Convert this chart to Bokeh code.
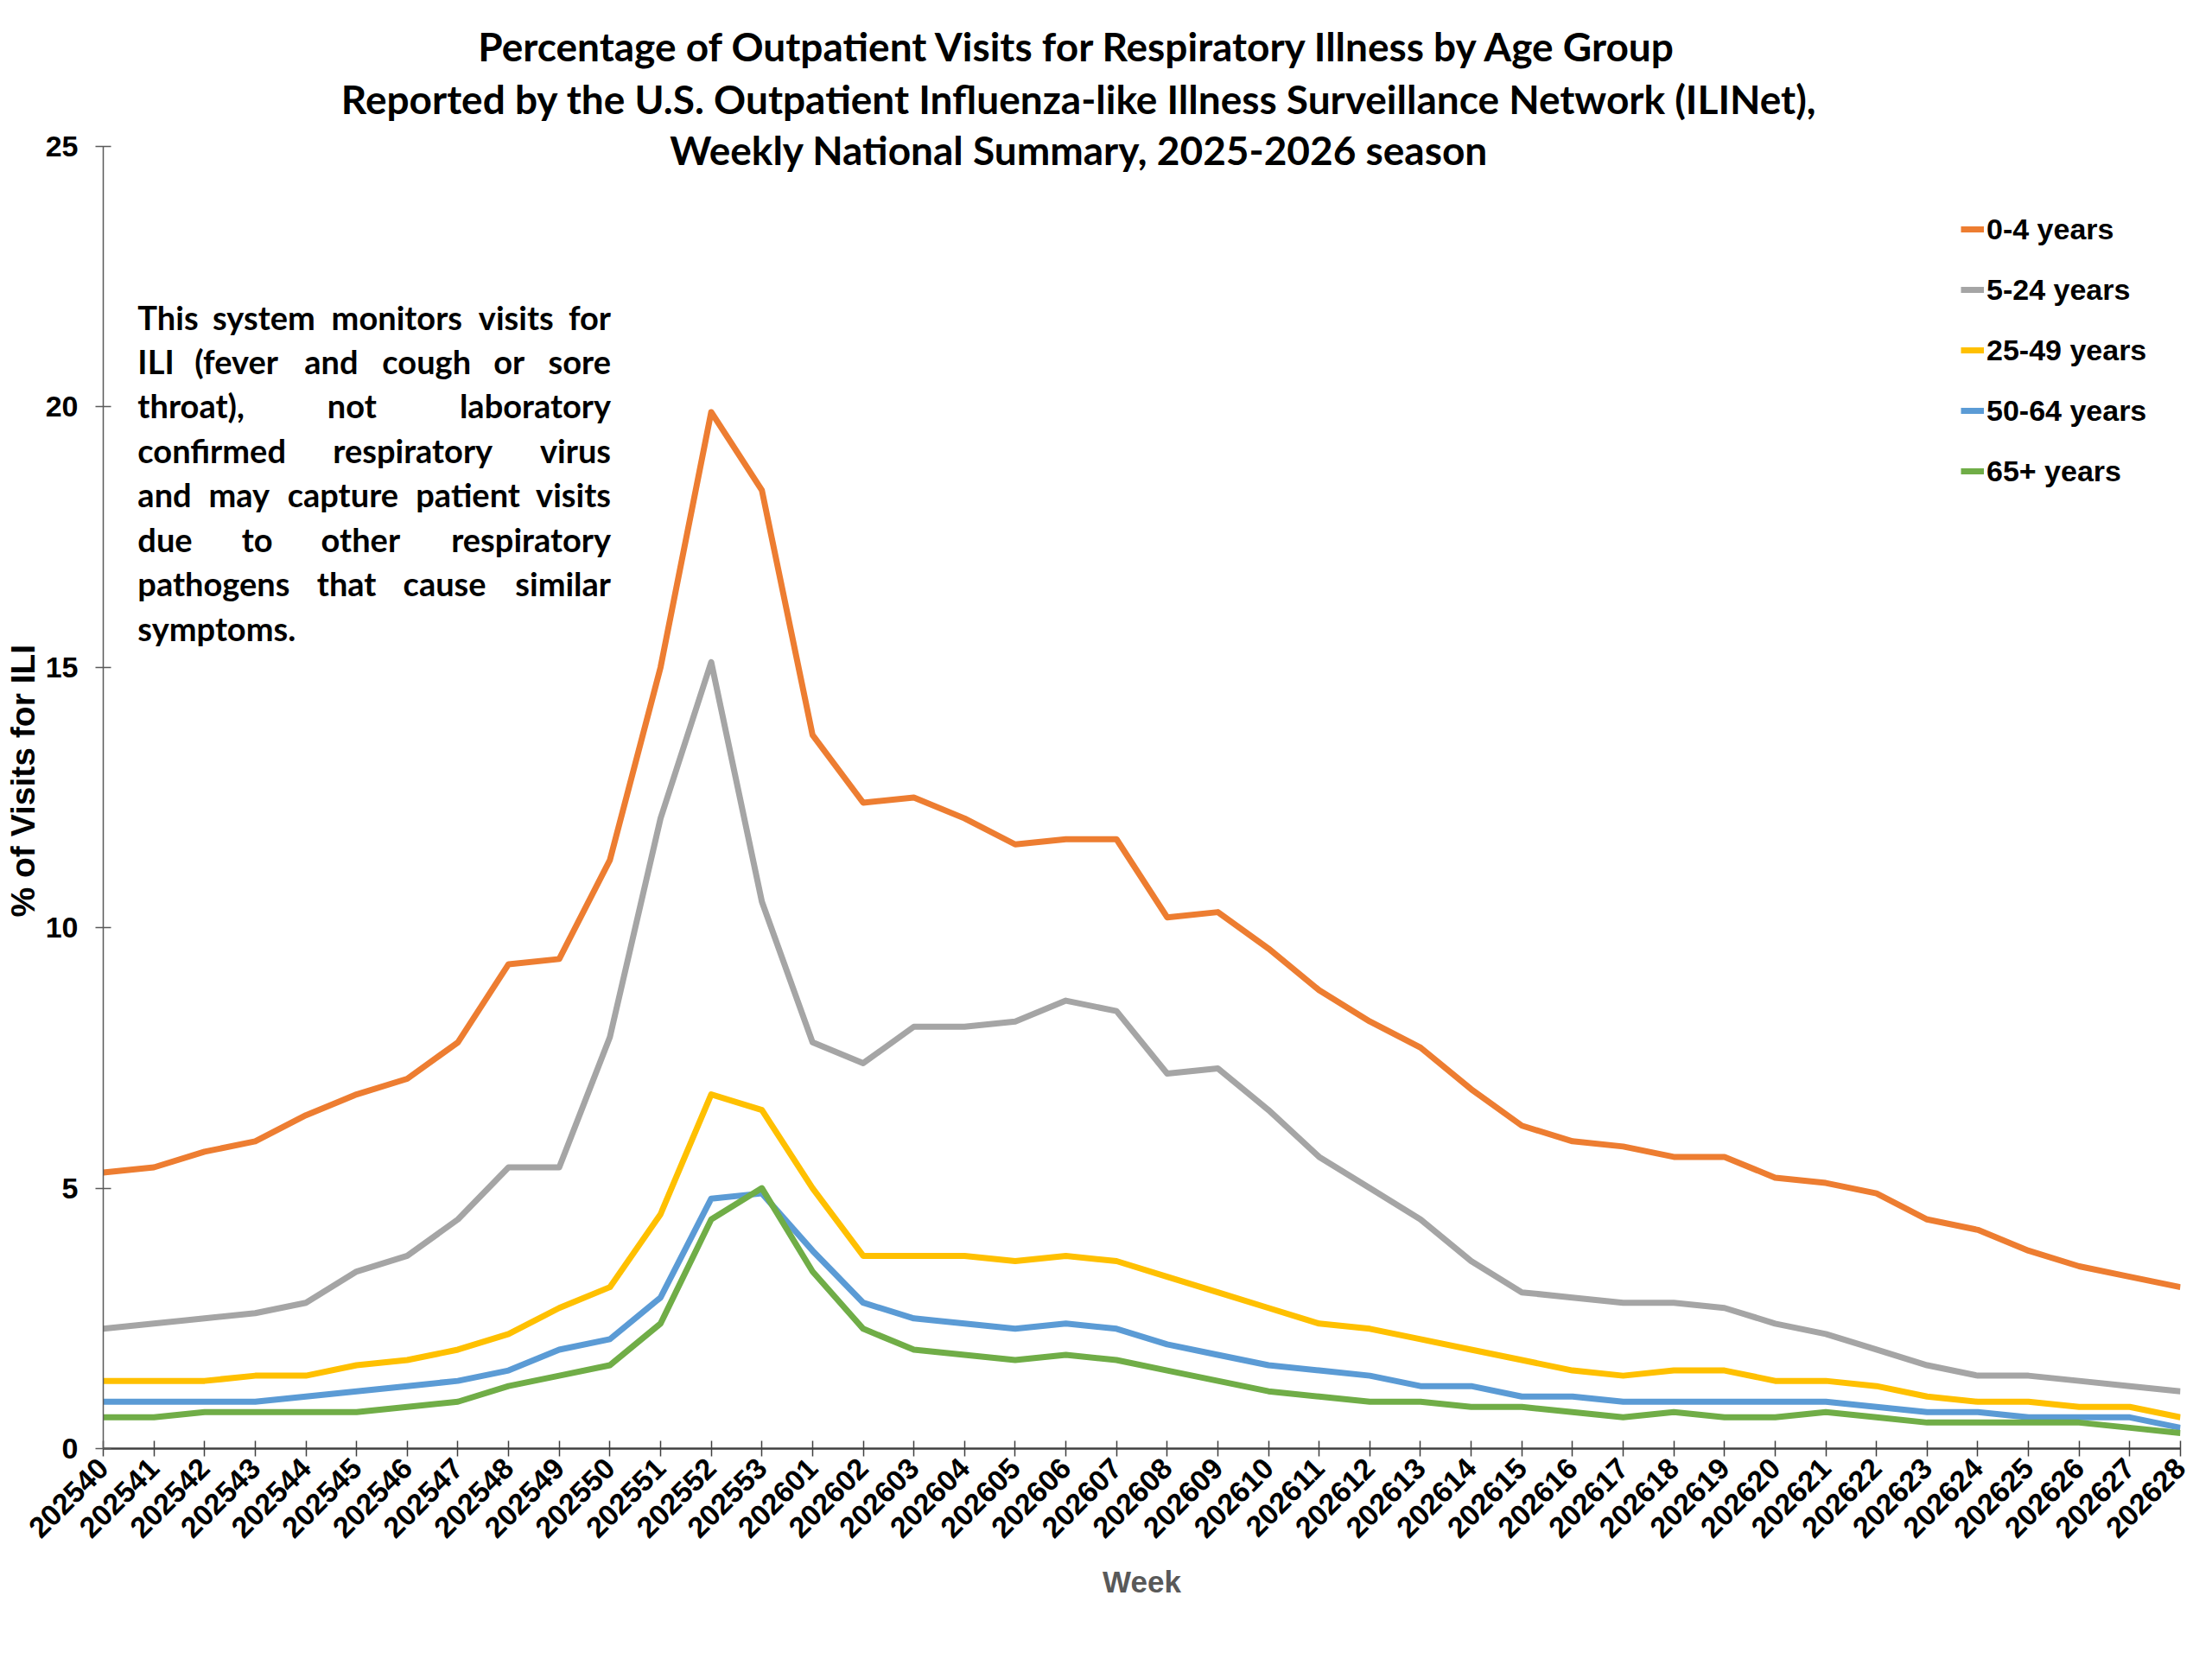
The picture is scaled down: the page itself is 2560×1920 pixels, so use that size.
import math
from bokeh.plotting import figure
from bokeh.models import (ColumnDataSource, FixedTicker, Label, Legend, LegendItem, Range1d, Title)
from bokeh.embed import file_html
from bokeh.resources import INLINE

# ---------------- data ----------------
weeks = ["202540", "202541", "202542", "202543", "202544", "202545", "202546", "202547",
         "202548", "202549", "202550", "202551", "202552", "202553", "202601", "202602",
         "202603", "202604", "202605", "202606", "202607", "202608", "202609", "202610",
         "202611", "202612", "202613", "202614", "202615", "202616", "202617", "202618",
         "202619", "202620", "202621", "202622", "202623", "202624", "202625", "202626",
         "202627", "202628"]

age_groups = ["0-4 years", "5-24 years", "25-49 years", "50-64 years", "65+ years"]
colors = ["#ED7D31", "#A5A5A5", "#FFC000", "#5B9BD5", "#70AD47"]

age_0_4 = [5.3, 5.4, 5.7, 5.9, 6.4, 6.8, 7.1, 7.8, 9.3, 9.4, 11.3, 15.0, 19.9, 18.4,
           13.7, 12.4, 12.5, 12.1, 11.6, 11.7, 11.7, 10.2, 10.3, 9.6, 8.8, 8.2, 7.7, 6.9,
           6.2, 5.9, 5.8, 5.6, 5.6, 5.2, 5.1, 4.9, 4.4, 4.2, 3.8, 3.5, 3.3, 3.1]
age_5_24 = [2.3, 2.4, 2.5, 2.6, 2.8, 3.4, 3.7, 4.4, 5.4, 5.4, 7.9, 12.1, 15.1, 10.5,
            7.8, 7.4, 8.1, 8.1, 8.2, 8.6, 8.4, 7.2, 7.3, 6.5, 5.6, 5.0, 4.4, 3.6,
            3.0, 2.9, 2.8, 2.8, 2.7, 2.4, 2.2, 1.9, 1.6, 1.4, 1.4, 1.3, 1.2, 1.1]
age_25_49 = [1.3, 1.3, 1.3, 1.4, 1.4, 1.6, 1.7, 1.9, 2.2, 2.7, 3.1, 4.5, 6.8, 6.5,
             5.0, 3.7, 3.7, 3.7, 3.6, 3.7, 3.6, 3.3, 3.0, 2.7, 2.4, 2.3, 2.1, 1.9,
             1.7, 1.5, 1.4, 1.5, 1.5, 1.3, 1.3, 1.2, 1.0, 0.9, 0.9, 0.8, 0.8, 0.6]
age_50_64 = [0.9, 0.9, 0.9, 0.9, 1.0, 1.1, 1.2, 1.3, 1.5, 1.9, 2.1, 2.9, 4.8, 4.9,
             3.8, 2.8, 2.5, 2.4, 2.3, 2.4, 2.3, 2.0, 1.8, 1.6, 1.5, 1.4, 1.2, 1.2,
             1.0, 1.0, 0.9, 0.9, 0.9, 0.9, 0.9, 0.8, 0.7, 0.7, 0.6, 0.6, 0.6, 0.4]
age_65_plus = [0.6, 0.6, 0.7, 0.7, 0.7, 0.7, 0.8, 0.9, 1.2, 1.4, 1.6, 2.4, 4.4, 5.0,
               3.4, 2.3, 1.9, 1.8, 1.7, 1.8, 1.7, 1.5, 1.3, 1.1, 1.0, 0.9, 0.9, 0.8,
               0.8, 0.7, 0.6, 0.7, 0.6, 0.6, 0.7, 0.6, 0.5, 0.5, 0.5, 0.5, 0.4, 0.3]

y_ticks = [0, 5, 10, 15, 20, 25]

title_lines = [
    "Percentage of Outpatient Visits for Respiratory Illness by Age Group",
    "Reported by the U.S. Outpatient Influenza-like Illness Surveillance Network (ILINet),",
    "Weekly National Summary, 2025-2026 season",
]
note_lines = [
    "This system monitors visits for",
    "ILI (fever and cough or sore",
    "throat), not laboratory",
    "confirmed respiratory virus",
    "and may capture patient visits",
    "due to other respiratory",
    "pathogens that cause similar",
    "symptoms.",
]
y_label = "% of Visits for ILI"
x_label = "Week"

# ---------------- figure ----------------
n = len(weeks)
Y_MAX = y_ticks[-1]
FRAME_W = 2404
PX_PER_Y = 1507 / Y_MAX          # axis 0..25 spans 1507 px
FRAME_H = 1676                   # frame extends up to the canvas top (room for title)
Y_TOP = FRAME_H / PX_PER_Y
p = figure(output_backend="svg", toolbar_location=None,
           frame_width=FRAME_W, frame_height=FRAME_H,
           min_border_left=118, min_border_top=0, min_border_right=22, min_border_bottom=228,
           x_range=Range1d(0, n - 1), y_range=Range1d(0, Y_TOP))
p.outline_line_color = None
p.grid.visible = False
p.background_fill_color = "white"
p.border_fill_color = "white"

AX = "Liberation Sans"
# x axis
p.xaxis.ticker = FixedTicker(ticks=list(range(n)))
p.xaxis.major_label_overrides = {i: w for i, w in enumerate(weeks)}
p.xaxis.major_label_orientation = math.pi / 4
p.xaxis.major_label_text_font = AX
p.xaxis.major_label_text_font_style = "bold"
p.xaxis.major_label_text_font_size = "34px"
p.xaxis.major_label_text_color = "black"
p.xaxis.major_label_standoff = 8
p.xaxis.axis_label = x_label
p.xaxis.axis_label_text_font = AX
p.xaxis.axis_label_text_font_style = "bold"
p.xaxis.axis_label_text_font_size = "35px"
p.xaxis.axis_label_text_color = "#595959"
p.xaxis.axis_label_standoff = 18
p.xaxis.minor_tick_line_color = None
p.xaxis.axis_line_color = "#404040"
p.xaxis.axis_line_width = 2.5
p.xaxis.major_tick_line_color = "#404040"
p.xaxis.major_tick_line_width = 1.5
p.xaxis.major_tick_in = 9
p.xaxis.major_tick_out = 9

# y axis
p.yaxis.ticker = FixedTicker(ticks=y_ticks)
p.yaxis.bounds = (0, Y_MAX)
p.yaxis.major_label_text_font = AX
p.yaxis.major_label_text_font_style = "bold"
p.yaxis.major_label_text_font_size = "34px"
p.yaxis.major_label_text_color = "black"
p.yaxis.major_label_standoff = 20
p.yaxis.minor_tick_line_color = None
p.yaxis.axis_line_color = "#595959"
p.yaxis.axis_line_width = 1.5
p.yaxis.major_tick_line_color = "#595959"
p.yaxis.major_tick_line_width = 1.5
p.yaxis.major_tick_in = 9
p.yaxis.major_tick_out = 9

# y axis title, centred on the 0..25 part of the axis (frame also holds the title area)
YL_PX = 39
p.add_layout(Title(text=y_label, align="left", offset=615, standoff=4,
                   text_font=AX, text_font_style="bold", text_font_size=f"{YL_PX}px",
                   text_color="black"), "left")

# ---------------- lines ----------------
src = ColumnDataSource(dict(x=list(range(n)), week=weeks, a=age_0_4, b=age_5_24,
                            c=age_25_49, d=age_50_64, e=age_65_plus))
cols = ["a", "b", "c", "d", "e"]
renderers = []
for col, colr in zip(cols, colors):
    r = p.line("x", col, source=src, line_color=colr, line_width=7, line_join="round")
    renderers.append(r)

legend = Legend(items=[LegendItem(label=lab, renderers=[r]) for lab, r in zip(age_groups, renderers)],
                location=(2150, 1111), orientation="vertical",
                glyph_width=27, glyph_height=40, label_height=40, spacing=30,
                label_standoff=3, padding=0, margin=0,
                label_text_font=AX, label_text_font_style="bold", label_text_font_size="34px",
                label_text_color="black", border_line_alpha=0, background_fill_alpha=0)
p.add_layout(legend)

# ---------------- title ----------------
TF = "Lato"
title_y = [26.92, 25.91, 24.93]
title_x = 19.26
for txt, ty in zip(title_lines, title_y):
    p.add_layout(Label(x=title_x, y=ty, text=txt, text_align="center", text_baseline="middle",
                       text_font=TF, text_font_style="bold", text_font_size="46px",
                       text_color="black"))

# ---------------- justified note ----------------
W_EM = {"i": .26, "l": .26, "j": .26, "t": .36, "f": .34, "r": .38, "s": .43, "c": .47,
        "m": .86, "w": .79, "v": .52, "y": .52, "k": .53, "a": .53, "e": .54, "g": .51,
        "I": .28, "L": .47, "T": .54, "(": .32, ")": .32, ",": .22, ".": .24}


def word_em(w):
    return sum(W_EM.get(ch, .57) for ch in w)


NOTE_PX = 38
PX_PER_X = FRAME_W / (n - 1)
note_left, note_right = 0.68, 10.02
note_y0, note_dy = 21.73, 0.853
for k, line in enumerate(note_lines):
    y = note_y0 - k * note_dy
    words = line.split()
    kw = dict(y=y, text_baseline="middle", text_font=TF, text_font_style="bold",
              text_font_size=f"{NOTE_PX}px", text_color="black")
    if k == len(note_lines) - 1 or len(words) == 1:
        p.add_layout(Label(x=note_left, text=line, text_align="left", **kw))
        continue
    widths = [word_em(w) * NOTE_PX / PX_PER_X for w in words]
    gap = (note_right - note_left - sum(widths)) / (len(words) - 1)
    xpos = note_left
    for j, (w, wd) in enumerate(zip(words, widths)):
        if j == len(words) - 1:
            p.add_layout(Label(x=note_right, text=w, text_align="right", **kw))
        else:
            p.add_layout(Label(x=xpos, text=w, text_align="left", **kw))
        xpos += wd + gap

open("out.html", "w").write(file_html(p, INLINE))
